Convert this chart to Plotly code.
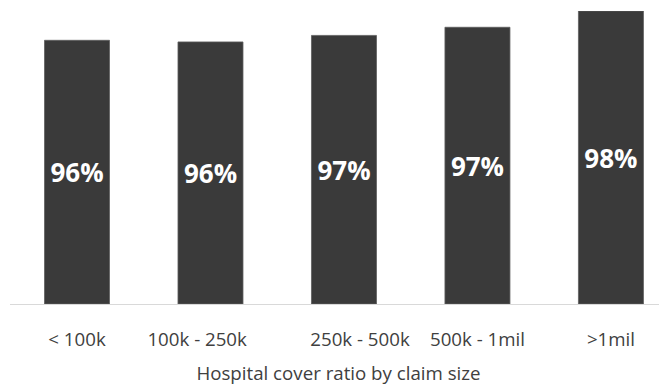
import plotly.graph_objects as go

# claim-size buckets and hospital cover ratio per bucket
claim_sizes = ["< 100k", "100k - 250k", "250k - 500k", "500k - 1mil", ">1mil"]
cover_ratio = [0.962, 0.961, 0.965, 0.970, 0.980]
bar_labels = ["96%", "96%", "97%", "97%", "98%"]

# value axis starts above zero, like the source chart
AXIS_MIN = 0.8
AXIS_MAX = 0.98

# small horizontal nudges of the tick labels, as in the source chart
label_shift = [0.0, -0.10, 0.12, 0.0, 0.0]

BAR_COLOR = "#3a3a3a"
TEXT_COLOR = "#404040"
FONT = "Open Sans"

positions = list(range(len(claim_sizes)))

bars = go.Bar(
    x=positions,
    y=[v - AXIS_MIN for v in cover_ratio],
    base=AXIS_MIN,
    width=0.487,
    text=bar_labels,
    textposition="inside",
    insidetextanchor="middle",
    textangle=0,
    textfont=dict(family=FONT, size=26, color="white", weight="bold"),
    marker=dict(color=BAR_COLOR, line=dict(color="#5e5e5e", width=0.8)),
    hoverinfo="skip",
)

fig = go.Figure(data=[bars])
# the page body adds an 8px offset, so the figure is 8px smaller than the window
fig.update_layout(
    width=659,
    height=380,
    margin=dict(l=2, r=0, t=3, b=84),
    paper_bgcolor="white",
    plot_bgcolor="white",
    showlegend=False,
    font=dict(family=FONT, color=TEXT_COLOR),
)
fig.update_xaxes(
    range=[-0.502, 4.42],
    tickmode="array",
    tickvals=[p + s for p, s in zip(positions, label_shift)],
    ticktext=claim_sizes,
    showline=True,
    linecolor="#d9d9d9",
    linewidth=1.3,
    showgrid=False,
    zeroline=False,
    ticks="",
    ticklabelstandoff=18,
    tickfont=dict(family=FONT, size=18.7, color=TEXT_COLOR),
    title=dict(
        text="Hospital cover ratio by claim size",
        font=dict(family=FONT, size=18.7, color=TEXT_COLOR),
        standoff=17,
    ),
)
fig.update_yaxes(
    range=[AXIS_MIN, AXIS_MAX],
    visible=False,
    showgrid=False,
    zeroline=False,
)

fig.write_html("out.html")
